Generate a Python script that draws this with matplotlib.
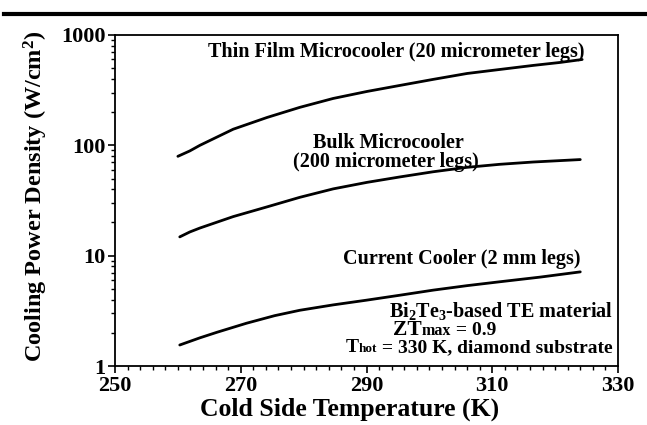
import matplotlib
matplotlib.use("Agg")
import matplotlib.pyplot as plt
from matplotlib.ticker import LogLocator, FixedLocator, NullFormatter
from matplotlib.lines import Line2D
from matplotlib.offsetbox import TextArea, HPacker, AnnotationBbox

plt.rcParams['font.family'] = ['Liberation Serif', 'DejaVu Serif']
plt.rcParams['font.weight'] = 'bold'
plt.rcParams['mathtext.fontset'] = 'custom'
plt.rcParams['mathtext.rm'] = 'Liberation Serif:bold'
plt.rcParams['mathtext.it'] = 'Liberation Serif:bold'
plt.rcParams['mathtext.bf'] = 'Liberation Serif:bold'

# Data
thin_T = [260.0, 261.9, 263.5, 268.8, 274.2, 279.4, 284.7, 290.1, 295.3, 300.6,
          306.0, 311.2, 316.5, 320.8, 324.3]
thin_P = [79.5, 89, 100, 140, 179, 221, 266, 308, 349, 396,
          448, 487, 530, 564, 600]

bulk_T = [260.3, 261.9, 263.5, 268.8, 274.2, 279.4, 284.7, 290.1, 295.3, 300.6,
          306.0, 311.2, 316.5, 320.8, 324.0]
bulk_P = [14.8, 16.4, 17.8, 22.6, 27.7, 33.8, 40.3, 46.2, 51.7, 57.6,
          63.2, 67.3, 70.6, 72.7, 74.3]

curr_T = [260.3, 263.5, 266.2, 270.9, 275.4, 279.4, 284.7, 290.0, 295.3, 300.6,
          306.0, 311.2, 317.6, 324.0]
curr_P = [1.55, 1.80, 2.02, 2.44, 2.86, 3.20, 3.58, 3.95, 4.38, 4.87,
          5.35, 5.80, 6.39, 7.13]

x_ticks = [250, 270, 290, 310, 330]
y_ticks = [1, 10, 100, 1000]

fig = plt.figure(figsize=(6.47, 4.25), dpi=100)
W, H = 647, 425
L, R, T, B = 115, 618, 35, 366
ax = fig.add_axes([L / W, 1 - B / H, (R - L) / W, (B - T) / H])

for Tx, P in [(thin_T, thin_P), (bulk_T, bulk_P), (curr_T, curr_P)]:
    ax.plot(Tx, P, color='black', lw=2.0, solid_capstyle='round',
            solid_joinstyle='round')

ax.set_yscale('log')
ax.set_xlim(250, 330)
ax.set_ylim(1, 1000)
ax.set_xticks(x_ticks)
ax.set_xticklabels([str(v) for v in x_ticks])
ax.xaxis.set_minor_locator(FixedLocator(list(range(252, 330, 2))))
ax.set_yticks(y_ticks)
ax.set_yticklabels([str(v) for v in y_ticks])
ax.yaxis.set_minor_locator(LogLocator(base=10, subs=range(2, 10)))
ax.yaxis.set_minor_formatter(NullFormatter())

ax.tick_params(axis='both', which='major', direction='out', length=5, width=1.2,
               labelsize=16, pad=2)
ax.tick_params(axis='both', which='minor', direction='out', length=3, width=1.0)
for lab in ax.get_xticklabels() + ax.get_yticklabels():
    lab.set_fontweight('bold')
for s in ax.spines.values():
    s.set_linewidth(1.3)

# axis titles placed to match the reference
fig.text(350 / W, 1 - 409 / H, 'Cold Side Temperature (K)', ha='center',
         va='center', fontsize=18.5, fontweight='bold')
fig.text(36 / W, 1 - 196 / H, 'Cooling Power Density (W/cm$^\\mathregular{2}$)',
         ha='center', va='center', rotation=90, fontsize=17.5, fontweight='bold')

def ax_xy(px, py):
    return ((px - L) / (R - L), (B - py) / (B - T))

FS = 14.5
FS2 = 14.0

def put(px, py, s, ha='center', size=FS):
    x, y = ax_xy(px, py)
    ax.text(x, y, s, transform=ax.transAxes, ha=ha, va='center',
            fontsize=size, fontweight='bold')

def put_mixed(px, py, parts, align_x):
    boxes = [TextArea(t, textprops=dict(fontsize=sz, fontweight='bold'))
             for t, sz in parts]
    pack = HPacker(children=boxes, align='baseline', pad=0, sep=0)
    ab = AnnotationBbox(pack, ax_xy(px, py), xycoords='axes fraction',
                        box_alignment=(align_x, 0.5), frameon=False, pad=0)
    ax.add_artist(ab)

put(396, 52, 'Thin Film Microcooler (20 micrometer legs)')
put(388, 143, 'Bulk Microcooler')
put(386, 162, '(200 micrometer legs)')
put(462, 259, 'Current Cooler (2 mm legs)')
put(613, 310.5, 'Bi$_\\mathregular{2}$Te$_\\mathregular{3}$-based TE material',
    ha='right', size=FS2 + 0.5)
put_mixed(393, 330, [('ZT', FS2 + 1.5), ('max', FS2 - 2.5), (' = 0.9', FS2)], 0.0)
put_mixed(613, 348, [('T', FS2), ('hot', FS2 - 4.5),
                     (' = 330 K, diamond substrate', FS2)], 1.0)

# top rule line of the figure
fig.add_artist(Line2D([4 / W, 1.0], [1 - 13.5 / H, 1 - 13.5 / H],
                      color='black', lw=3.0, transform=fig.transFigure))

fig.savefig('out.png', dpi=100)
